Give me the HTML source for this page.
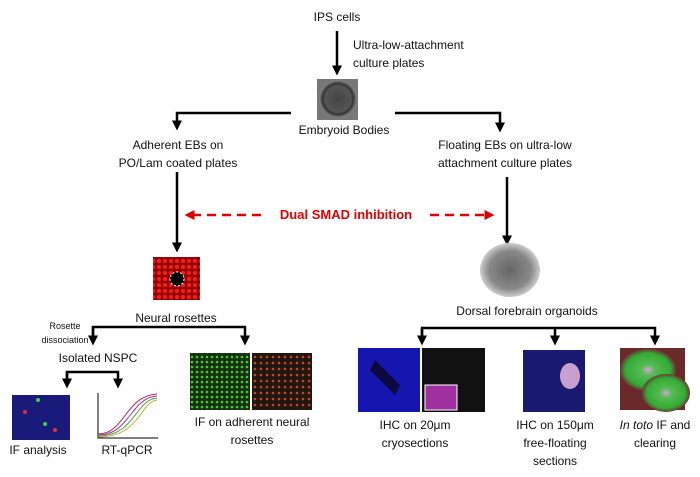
<!DOCTYPE html>
<html><head><style>
body{margin:0;background:#fff;}
#c{position:relative;width:700px;height:477px;overflow:hidden;font-family:"Liberation Sans",sans-serif;color:#111;}
.t{position:absolute;font-size:12px;text-align:center;white-space:nowrap;line-height:18px;transform:translateX(-50%);}
</style></head><body><div id="c">
<svg width="700" height="477" style="position:absolute;left:0;top:0">
<defs>
<marker id="a" markerWidth="4" markerHeight="4" refX="1" refY="2" orient="auto" markerUnits="strokeWidth"><path d="M0,0 L4,2 L0,4z" fill="#000"/></marker>
<marker id="r" markerWidth="4" markerHeight="4" refX="1" refY="2" orient="auto" markerUnits="strokeWidth"><path d="M0,0 L4,2 L0,4z" fill="#d00"/></marker>
<marker id="r2" markerWidth="4" markerHeight="4" refX="1" refY="2" orient="auto-start-reverse" markerUnits="strokeWidth"><path d="M0,0 L4,2 L0,4z" fill="#d00"/></marker>
<radialGradient id="g1"><stop offset="0" stop-color="#444"/><stop offset="0.7" stop-color="#555"/><stop offset="0.8" stop-color="#333"/><stop offset="1" stop-color="#888"/></radialGradient>
<radialGradient id="g2"><stop offset="0" stop-color="#666"/><stop offset="0.7" stop-color="#888"/><stop offset="1" stop-color="#ccc"/></radialGradient>
<radialGradient id="g3"><stop offset="0" stop-color="#d8a0d8"/><stop offset="0.25" stop-color="#5b5"/><stop offset="0.8" stop-color="#3a3"/><stop offset="1" stop-color="#6a3a3a"/></radialGradient>
<pattern id="pr" width="6" height="6" patternUnits="userSpaceOnUse"><rect width="6" height="6" fill="#900"/><circle cx="3" cy="3" r="2" fill="#e22"/></pattern>
<pattern id="pg" width="5" height="5" patternUnits="userSpaceOnUse"><rect width="5" height="5" fill="#163010"/><circle cx="2" cy="2" r="1.3" fill="#4c3"/></pattern>
<pattern id="pd" width="6" height="6" patternUnits="userSpaceOnUse"><rect width="6" height="6" fill="#201810"/><circle cx="3" cy="3" r="1.3" fill="#c42"/></pattern>
</defs>
<g stroke="#000" stroke-width="2.5" fill="none">
<line x1="337" y1="31" x2="337" y2="68" marker-end="url(#a)"/>
<polyline points="291,113 177,113 177,123" marker-end="url(#a)"/>
<polyline points="395,113 500,113 500,125" marker-end="url(#a)"/>
<line x1="177" y1="172" x2="177" y2="245" marker-end="url(#a)"/>
<line x1="507" y1="177" x2="507" y2="238" marker-end="url(#a)"/>
<polyline points="93,338 93,327 245,327 245,338" marker-end="url(#a)"/>
<line x1="93" y1="327" x2="93" y2="338" marker-end="url(#a)"/>
<polyline points="67,381 67,372 118,372 118,381" marker-end="url(#a)"/>
<line x1="67" y1="372" x2="67" y2="381" marker-end="url(#a)"/>
<polyline points="422,338 422,328 655,328 655,338" marker-end="url(#a)"/>
<line x1="422" y1="328" x2="422" y2="338" marker-end="url(#a)"/>
<line x1="555" y1="328" x2="555" y2="338" marker-end="url(#a)"/>
</g>
<line x1="192" y1="215" x2="265" y2="215" stroke="#d00" stroke-width="2.5" stroke-dasharray="9,6" marker-start="url(#r2)"/>
<line x1="430" y1="215" x2="487" y2="215" stroke="#d00" stroke-width="2.5" stroke-dasharray="9,6" marker-end="url(#r)"/>
<rect x="317" y="79" width="41" height="41" fill="#777"/>
<circle cx="338" cy="99" r="19" fill="url(#g1)"/>
<rect x="153" y="257" width="47" height="43" fill="url(#pr)"/>
<circle cx="177" cy="279" r="7" fill="#000" stroke="#fff" stroke-dasharray="2,2"/>
<ellipse cx="510" cy="270" rx="30" ry="27" fill="url(#g2)"/>
<rect x="12" y="395" width="58" height="45" fill="#1a1a7a"/>
<circle cx="25" cy="412" r="2" fill="#d33"/><circle cx="45" cy="424" r="2" fill="#4c4"/><circle cx="55" cy="430" r="2" fill="#d33"/><circle cx="38" cy="400" r="2" fill="#4c4"/>
<g fill="none" stroke-width="1"><polyline points="98,393 98,438 158,438" stroke="#000"/>
<path d="M98,434 C125,434 125,396 157,394" stroke="#a36"/><path d="M98,435 C130,435 130,398 157,396" stroke="#a3a"/><path d="M98,436 C135,436 135,400 157,398" stroke="#4a4"/><path d="M98,437 C140,437 140,402 157,400" stroke="#ca3"/></g>
<rect x="190" y="353" width="60" height="57" fill="url(#pg)"/><rect x="252" y="353" width="60" height="57" fill="url(#pd)"/>
<rect x="358" y="348" width="62" height="64" fill="#1515b0"/><path d="M375,360 L400,385 L395,395 L370,370z" fill="#0a0a40"/><rect x="422" y="348" width="63" height="64" fill="#111"/>
<rect x="425" y="385" width="32" height="25" fill="#a030a0" stroke="#fff"/>
<rect x="523" y="350" width="62" height="62" fill="#1a1a70"/><ellipse cx="570" cy="376" rx="10" ry="13" fill="#c8a0d0"/>
<rect x="620" y="348" width="65" height="62" fill="#6a2a2a"/>
<ellipse cx="648" cy="370" rx="28" ry="21" fill="url(#g3)"/><ellipse cx="666" cy="393" rx="24" ry="19" fill="url(#g3)"/>
</svg>
<div class="t" style="left:337px;top:8px">IPS cells</div>
<div class="t" style="top:36px;text-align:left;transform:none;left:353px">Ultra-low-attachment<br>culture plates</div>
<div class="t" style="left:344px;top:121px">Embryoid Bodies</div>
<div class="t" style="left:178px;top:136px">Adherent EBs on<br>PO/Lam coated plates</div>
<div class="t" style="left:505px;top:136px">Floating EBs on ultra-low<br>attachment culture plates</div>
<div class="t" style="left:346px;top:206px;color:#d00;font-weight:bold;font-size:13px">Dual SMAD inhibition</div>
<div class="t" style="left:176px;top:309px">Neural rosettes</div>
<div class="t" style="left:65px;top:319px;font-size:9px;line-height:14px">Rosette<br>dissociation</div>
<div class="t" style="left:98px;top:349px">Isolated NSPC</div>
<div class="t" style="left:38px;top:441px">IF analysis</div>
<div class="t" style="left:127px;top:441px">RT-qPCR</div>
<div class="t" style="left:252px;top:413px">IF on adherent neural<br>rosettes</div>
<div class="t" style="left:527px;top:302px">Dorsal forebrain organoids</div>
<div class="t" style="left:415px;top:416px">IHC on 20μm<br>cryosections</div>
<div class="t" style="left:555px;top:416px">IHC on 150μm<br>free-floating<br>sections</div>
<div class="t" style="left:655px;top:416px"><i>In toto</i> IF and<br>clearing</div>
</div></body></html>
